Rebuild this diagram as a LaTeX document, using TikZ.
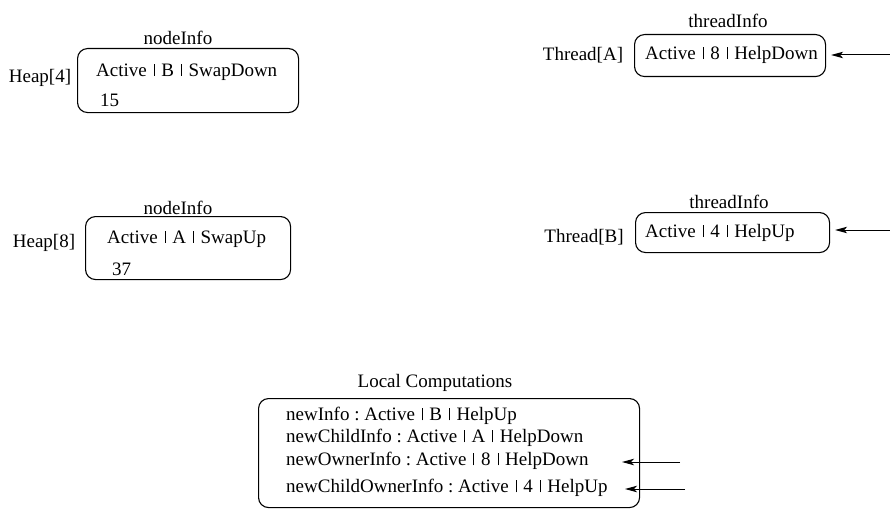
\documentclass[tikz,border=0pt]{standalone}
\usepackage{fontspec}
\setmainfont{Liberation Serif}
\usetikzlibrary{arrows.meta}
% short separator bar used inside the info fields
\newcommand{\vb}{\hspace{0.11em}\rule[0.02em]{0.85pt}{0.64em}\hspace{0.11em}}
\begin{document}
\frenchspacing
\begin{tikzpicture}[x=1pt,y=-1pt,
  every node/.style={font=\fontsize{19}{22}\selectfont, inner sep=0pt},
  infobox/.style={draw, line width=1.1pt, rounded corners=10pt, anchor=north west},
  caption/.style={anchor=center},
  txt/.style={anchor=west},
  arr/.style={line width=1pt, -{Stealth[length=12pt,width=6.5pt,inset=3pt]}}]
\useasboundingbox (0,0) rectangle (890,508);

% heap entries
\node[infobox, minimum width=221pt, minimum height=64pt] (h4) at (77,48) {};
\node[caption] (h4cap) at (178,38) {nodeInfo};
\node[caption] (h4lab) at (40,78) {Heap[4]};
\node[txt] (h4a) at (96,72) {Active \vb\ B \vb\ SwapDown};
\node[txt] (h4b) at (100,100) {15};

\node[infobox, minimum width=205pt, minimum height=63pt] (h8) at (85,216) {};
\node[caption] (h8cap) at (178,208) {nodeInfo};
\node[caption] (h8lab) at (44,243) {Heap[8]};
\node[txt] (h8a) at (107,239) {Active \vb\ A \vb\ SwapUp};
\node[txt] (h8b) at (112,269) {37};

% thread descriptors
\node[infobox, minimum width=191pt, minimum height=42pt] (ta) at (634,34) {};
\node[caption] (tacap) at (728,21) {threadInfo};
\node[caption] (talab) at (583,55) {Thread[A]};
\node[txt] (taa) at (645,55) {Active \vb\ 8 \vb\ HelpDown};

\node[infobox, minimum width=194pt, minimum height=40pt] (tb) at (635,212) {};
\node[caption] (tbcap) at (729,202) {threadInfo};
\node[caption] (tblab) at (584,237) {Thread[B]};
\node[txt] (tba) at (645,233) {Active \vb\ 4 \vb\ HelpUp};

% local computations
\node[infobox, minimum width=381pt, minimum height=109pt] (lc) at (258,398) {};
\node[caption] (lccap) at (435,383) {Local Computations};
\node[txt] (l1) at (286,416) {newInfo : Active \vb\ B \vb\ HelpUp};
\node[txt] (l2) at (286,438) {newChildInfo : Active \vb\ A \vb\ HelpDown};
\node[txt] (l3) at (286,461) {newOwnerInfo : Active \vb\ 8 \vb\ HelpDown};
\node[txt] (l4) at (286,488) {newChildOwnerInfo : Active \vb\ 4 \vb\ HelpUp};

% incoming pointers
\coordinate (sa) at (890,55);
\coordinate (sb) at (890,230);
\coordinate (s3) at (680,462);
\coordinate (s4) at (685,489);
\coordinate (t3) at (622,462);
\coordinate (t4) at (625,489);
\draw[arr, shorten >=5pt] (sa) -- (sa -| ta.east);
\draw[arr, shorten >=5pt] (sb) -- (sb -| tb.east);
\draw[arr] (s3) -- (t3);
\draw[arr] (s4) -- (t4);
\end{tikzpicture}
\end{document}
